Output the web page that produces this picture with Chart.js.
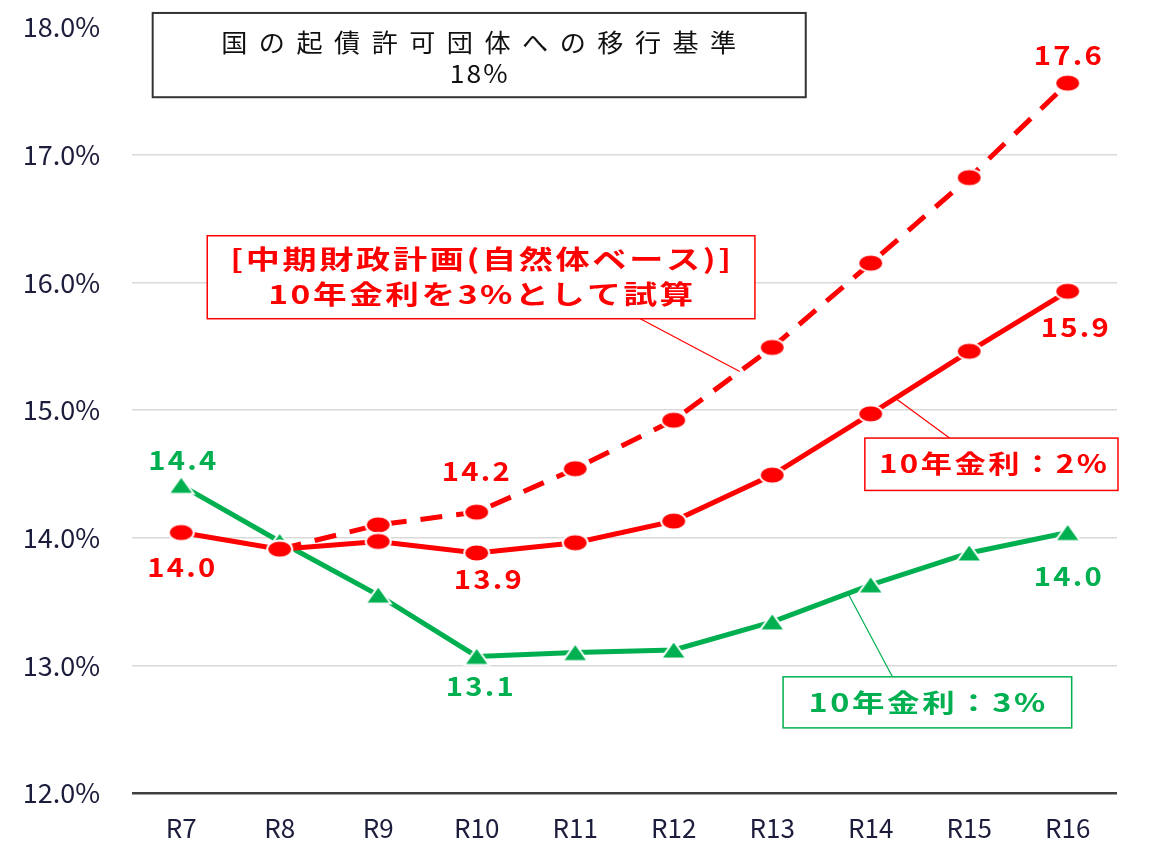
<!DOCTYPE html>
<html>
<head>
<meta charset="utf-8">
<script src="https://cdn.jsdelivr.net/npm/chart.js@4/dist/chart.umd.min.js"></script>
<style>
  html, body { margin: 0; padding: 0; background: #fff; }
  #wrap { width: 1154px; height: 845px; position: relative; }
</style>
</head>
<body>
<div id="wrap"><canvas id="chart"></canvas></div>
<script>
// data
var years = ['R7', 'R8', 'R9', 'R10', 'R11', 'R12', 'R13', 'R14', 'R15', 'R16'];
var rate2 = [14.04, 13.91, 13.97, 13.88, 13.96, 14.13, 14.49, 14.97, 15.46, 15.93];
var midPlan = [null, 13.91, 14.10, 14.20, 14.54, 14.92, 15.49, 16.15, 16.82, 17.56];
var rate3 = [14.41, 13.97, 13.55, 13.07, 13.10, 13.12, 13.34, 13.63, 13.88, 14.04];
var yTicks = [12, 13, 14, 15, 16, 17, 18];

var RED = '#ff0000';
var GREEN = '#00b050';
var FONT = "'Noto Sans CJK JP', 'Noto Sans', sans-serif";

function marker(kind, color) {
    var c = document.createElement('canvas');
    c.width = 31; c.height = 22;
    var g = c.getContext('2d');
    g.fillStyle = color;
    g.strokeStyle = '#fff';
    g.lineWidth = 2;
    g.beginPath();
    if (kind === 'circle') {
        g.ellipse(15.5, 11, 12.5, 8.5, 0, 0, Math.PI * 2);
    } else {
        g.moveTo(15.5, 2);
        g.lineTo(28, 19.5);
        g.lineTo(3, 19.5);
        g.closePath();
    }
    g.fill();
    g.stroke();
    return c;
}

// which values get a label: dataset, index, offset from the point
var valueLabels = [
    {ds: 2, i: 0, dx: 1, dy: -25},
    {ds: 0, i: 0, dx: 0, dy: 35},
    {ds: 0, i: 3, dx: 11, dy: 26},
    {ds: 1, i: 3, dx: -1, dy: -41},
    {ds: 1, i: 9, dx: 0, dy: -28},
    {ds: 0, i: 9, dx: 7, dy: 36},
    {ds: 2, i: 3, dx: 3, dy: 30},
    {ds: 2, i: 9, dx: 0, dy: 44}
];

// centred text, optionally stretched to a given width
function drawText(ctx, txt, x, y, font, color, width, spacing) {
    spacing = spacing || 0;
    ctx.save();
    ctx.font = font;
    ctx.fillStyle = color;
    ctx.textAlign = 'left';
    ctx.textBaseline = 'middle';
    ctx.letterSpacing = spacing + 'px';
    var w = ctx.measureText(txt).width - spacing;
    var sx = width ? width / w : 1;
    ctx.translate(x, y);
    ctx.scale(sx, 1);
    ctx.fillText(txt, -w / 2, 0);
    ctx.restore();
}

function box(ctx, x1, y1, x2, y2, color, width) {
    ctx.save();
    ctx.fillStyle = '#fff';
    ctx.fillRect(x1, y1, x2 - x1, y2 - y1);
    ctx.strokeStyle = color;
    ctx.lineWidth = width;
    ctx.strokeRect(x1, y1, x2 - x1, y2 - y1);
    ctx.restore();
}

function line(ctx, x1, y1, x2, y2, color) {
    ctx.save();
    ctx.strokeStyle = color;
    ctx.lineWidth = 1.2;
    ctx.beginPath();
    ctx.moveTo(x1, y1);
    ctx.lineTo(x2, y2);
    ctx.stroke();
    ctx.restore();
}

var notes = {
    id: 'notes',
    afterDraw: function (chart) {
        var ctx = chart.ctx;
        var xs = chart.scales.x, ys = chart.scales.y;
        var px = function (v) { return xs.getPixelForValue(v); };
        var py = function (v) { return ys.getPixelForValue(v); };
        var pt = function (ds, i) { return chart.getDatasetMeta(ds).data[i]; };
        var along = function (ds, i, t) {
            var a = pt(ds, i), b = pt(ds, i + 1);
            return {x: a.x + (b.x - a.x) * t, y: a.y + (b.y - a.y) * t};
        };

        // value labels
        valueLabels.forEach(function (l) {
            var p = pt(l.ds, l.i);
            var v = chart.data.datasets[l.ds].data[l.i];
            var col = l.ds === 2 ? GREEN : RED;
            drawText(ctx, v.toFixed(1), p.x + l.dx, p.y + l.dy, 'bold 26px ' + FONT, col, 68, 2);
        });

        // leader lines
        var a = along(1, 5, 0.67);
        line(ctx, px(4.66), py(15.715), a.x, a.y, RED);
        var b = along(0, 7, 0.25);
        line(ctx, b.x, b.y, px(7.80), py(14.78), RED);
        var c = along(2, 6, 0.77);
        line(ctx, c.x, c.y, px(7.22), py(12.91), GREEN);

        // title box
        box(ctx, px(-0.29), py(18.11), px(6.34), py(17.45), '#333', 2);
        drawText(ctx, '国の起債許可団体への移行基準', px(3.02), py(17.877), '25px ' + FONT, '#111', 515, 11);
        drawText(ctx, '18%', px(3.02), py(17.634), '25px ' + FONT, '#111', 58, 2);

        // plan note
        box(ctx, px(0.264), py(16.365), px(5.824), py(15.715), RED, 1.5);
        drawText(ctx, '[中期財政計画(自然体ベース)]', px(3.04), py(16.178), 'bold 26px ' + FONT, RED, 501, 2);
        drawText(ctx, '10年金利を3%として試算', px(3.04), py(15.911), 'bold 26px ' + FONT, RED, 425, 2);

        // 2% note
        box(ctx, px(6.94), py(14.78), px(9.51), py(14.37), RED, 1.5);
        drawText(ctx, '10年金利：2%', px(8.24), py(14.58), 'bold 25px ' + FONT, RED, 228, 2);

        // 3% note
        box(ctx, px(6.11), py(12.91), px(9.04), py(12.51), GREEN, 1.5);
        drawText(ctx, '10年金利：3%', px(7.57), py(12.71), 'bold 25px ' + FONT, GREEN, 237, 2);
    }
};

var redDot = marker('circle', RED);
var greenTri = marker('triangle', GREEN);

new Chart(document.getElementById('chart'), {
    type: 'line',
    data: {
        labels: years,
        datasets: [{
            label: '10年金利：2%',
            data: rate2,
            borderColor: RED,
            backgroundColor: RED,
            borderWidth: 5,
            pointStyle: redDot,
            tension: 0
        }, {
            label: '中期財政計画',
            data: midPlan,
            borderColor: RED,
            backgroundColor: RED,
            borderWidth: 5,
            borderDash: [22, 14],
            pointStyle: redDot,
            tension: 0
        }, {
            label: '10年金利：3%',
            data: rate3,
            borderColor: GREEN,
            backgroundColor: GREEN,
            borderWidth: 5,
            pointStyle: greenTri,
            tension: 0
        }]
    },
    options: {
        responsive: true,
        maintainAspectRatio: false,
        animation: false,
        layout: {padding: {top: 27, right: 37, left: 0, bottom: 0}},
        plugins: {
            legend: {display: false},
            tooltip: {enabled: false}
        },
        scales: {
            x: {
                offset: true,
                grid: {display: false, offset: true},
                border: {display: false},
                ticks: {
                    color: '#1c1c3c',
                    font: {family: FONT, size: 26},
                    padding: 12
                },
                afterFit: function (s) { s.height = 52; }
            },
            y: {
                min: 12,
                max: 18,
                afterBuildTicks: function (s) {
                    s.ticks = yTicks.map(function (v) { return {value: v}; });
                },
                border: {display: false},
                grid: {
                    drawTicks: false,
                    lineWidth: function (c) { return c.tick && c.tick.value === 12 ? 2.5 : 1.5; },
                    color: function (c) {
                        if (!c.tick) return '#d9d9d9';
                        if (c.tick.value === 12) return '#404040';
                        if (c.tick.value === 18) return 'rgba(0,0,0,0)';
                        return '#d9d9d9';
                    }
                },
                ticks: {
                    color: '#1c1c3c',
                    font: {family: FONT, size: 27},
                    padding: 32,
                    callback: function (v) { return v.toFixed(1) + '%'; }
                },
                afterFit: function (s) {
                    s.width = 132;
                    s.paddingTop = 0;
                    s.paddingBottom = 0;
                }
            }
        }
    },
    plugins: [notes]
});
</script>
</body>
</html>
